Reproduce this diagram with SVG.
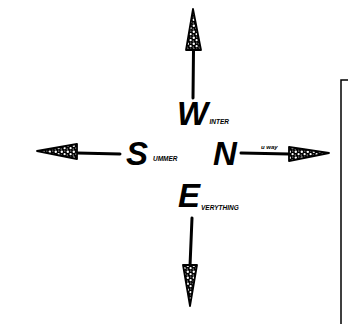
<svg xmlns="http://www.w3.org/2000/svg" width="348" height="324" viewBox="0 0 348 324">
<style>
.big{font-family:"Liberation Sans",Arial,sans-serif;font-weight:bold;font-style:italic;font-size:33px;fill:#000}
.sm{font-family:"Liberation Sans",Arial,sans-serif;font-weight:bold;font-style:italic;font-size:6.5px;fill:#000}
.shaft{stroke:#000;stroke-width:3;fill:none;stroke-linecap:round}
.head{fill:url(#speck);stroke:#000;stroke-width:1.8;stroke-linejoin:round}
.frame{stroke:#000;stroke-width:1.5;fill:none}
</style>
<defs>
<pattern id="speck" width="6" height="6" patternUnits="userSpaceOnUse">
<rect width="6" height="6" fill="#000"/>
<circle cx="1.8" cy="1.8" r="1.2" fill="#fff"/>
<circle cx="4.6" cy="4.2" r="1.1" fill="#fff"/>
<circle cx="1.2" cy="5" r="0.6" fill="#fff"/>
<circle cx="4.8" cy="1" r="0.5" fill="#fff"/>
</pattern>
</defs>
<g id="connectors">
<line class="shaft" x1="193.5" y1="50" x2="193" y2="98"/>
<polygon class="head" points="193,9 186,50 201,50"/>
<line class="shaft" x1="192" y1="218" x2="190" y2="266"/>
<polygon class="head" points="183,265 197,265 190,306"/>
<line class="shaft" x1="77" y1="153" x2="120" y2="154"/>
<polygon class="head" points="37,151 77,144 77,159"/>
<line class="shaft" x1="241" y1="153" x2="289" y2="154"/>
<polygon class="head" points="289,147 289,161 329,153"/>
</g>
<g id="west"><text class="big" x="177" y="125">W</text><text class="sm" x="209.5" y="124">INTER</text></g>
<g id="north"><text class="big" x="213" y="165">N</text><text class="sm" x="261" y="149" style="font-size:6px">u way</text></g>
<g id="south"><text class="big" x="126" y="165">S</text><text class="sm" x="153" y="161">UMMER</text></g>
<g id="east"><text class="big" x="178" y="207">E</text><text class="sm" x="201" y="210">VERYTHING</text></g>
<g id="bracket"><path class="frame" d="M348,80 H341 V324"/></g>
</svg>
